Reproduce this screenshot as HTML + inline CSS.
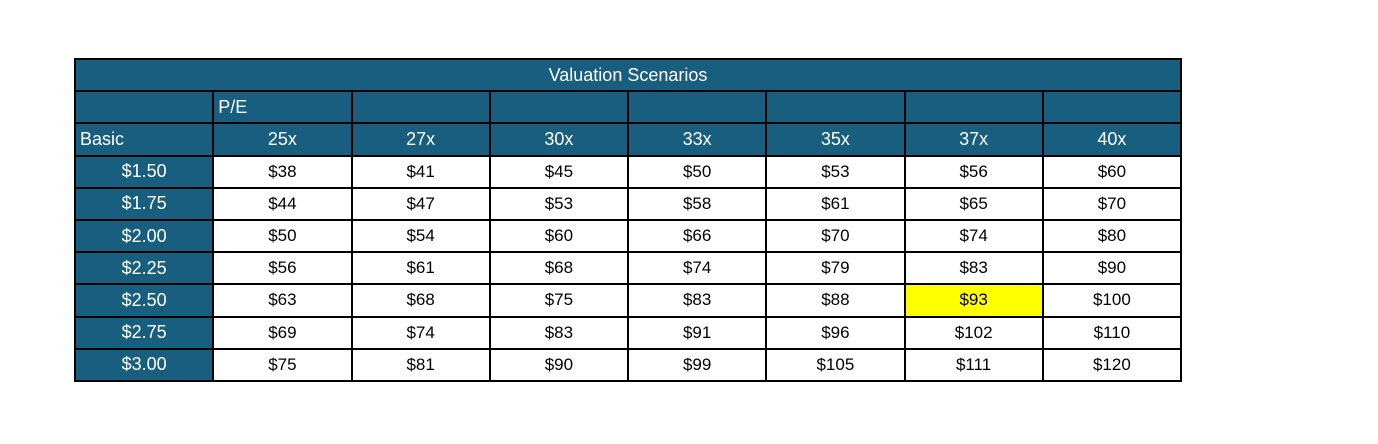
<!DOCTYPE html>
<html><head><meta charset="utf-8"><style>
body{margin:0;width:1378px;height:444px;background:#fff;overflow:hidden;font-family:"Liberation Sans",sans-serif}
#t{position:absolute;left:0;top:0}
.c{position:absolute;box-sizing:border-box;display:flex;align-items:center;justify-content:center;font-size:17px;color:#000}
.h{background:#175e7f;color:#fff}
</style></head><body>
<div id="t"></div>
<script>
const peLabels=["25x","27x","30x","33x","35x","37x","40x"];
const epsLabels=["$1.50","$1.75","$2.00","$2.25","$2.50","$2.75","$3.00"];
const row150=[38,41,45,50,53,56,60];
const row175=[44,47,53,58,61,65,70];
const row200=[50,54,60,66,70,74,80];
const row225=[56,61,68,74,79,83,90];
const row250=[63,68,75,83,88,93,100];
const row275=[69,74,83,91,96,102,110];
const row300=[75,81,90,99,105,111,120];
const rows=[row150,row175,row200,row225,row250,row275,row300];
const highlight=[4,5];
const T=document.getElementById('t');
const X0=74,Y0=58,CW=138.25,RH=32.2,B=2;
function cell(x,y,w,h,txt,cls,name,extra){
 const d=document.createElement('div');
 d.className='c '+(cls||'');
 
 
 d.style.left=x+'px';d.style.top=y+'px';d.style.width=w+'px';d.style.height=h+'px';
 d.style.border=B+'px solid #000';
 if(extra)Object.assign(d.style,extra);
 d.textContent=txt;T.appendChild(d);return d;
}
const W=CW*8;
cell(X0,Y0,W+B,RH+B,"Valuation Scenarios","h","table-title",{fontSize:'18px'});
for(let j=0;j<8;j++){
 cell(X0+j*CW,Y0+RH,CW+B,RH+B,j==1?"P/E":"","h","pe-header-cell",{justifyContent:'flex-start',paddingLeft:'4px',fontSize:'18px'});
 cell(X0+j*CW,Y0+2*RH,CW+B,RH+B,j==0?"Basic":peLabels[j-1],"h",j==0?"basic-eps-label":"pe-multiple",j==0?{justifyContent:'flex-start',paddingLeft:'4px',fontSize:'18px'}:{fontSize:'18px'});
}
for(let i=0;i<rows.length;i++){
 const y=Y0+(3+i)*RH;
 cell(X0,y,CW+B,RH+B,epsLabels[i],"h","eps-label",{fontSize:'18px'});
 for(let j=0;j<7;j++){
  const hl=highlight[0]==i&&highlight[1]==j;
  cell(X0+(j+1)*CW,y,CW+B,RH+B,"$"+rows[i][j],"",hl?"highlighted-price":"price-cell",hl?{background:'#ffff00'}:null);
 }
}
</script>
</body></html>
